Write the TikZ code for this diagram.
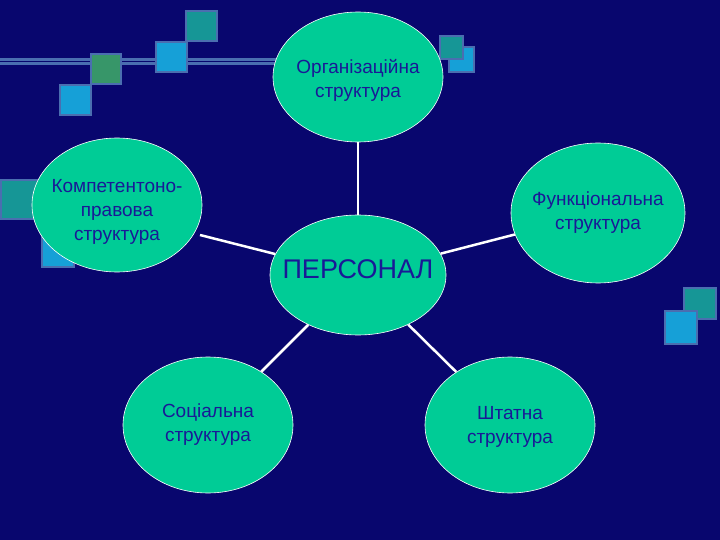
\documentclass[tikz,border=0pt]{standalone}
\usepackage{fontspec}
\setmainfont{Liberation Sans}
\usetikzlibrary{shapes.geometric}
\definecolor{bg}{RGB}{8,6,110}
\definecolor{frame}{RGB}{74,110,176}
\definecolor{teal}{RGB}{22,150,150}
\definecolor{sky}{RGB}{22,160,215}
\definecolor{grn}{RGB}{55,150,105}
\definecolor{ell}{RGB}{0,204,150}
\definecolor{txt}{RGB}{25,25,150}
\tikzset{
  sq/.style={draw=frame,line width=2.5pt},
  bub/.style={ellipse,fill=ell,draw=white,line width=0.6pt,inner sep=0pt},
  lbl/.style={text=txt,align=center,inner sep=0pt,font=\fontsize{19}{24}\selectfont},
  link/.style={draw=white,line width=2.5pt}
}
\begin{document}
\begin{tikzpicture}[x=1pt,y=-1pt]
\fill[bg] (0,0) rectangle (720,540);
\useasboundingbox (0,0) rectangle (720,540);
% decorative line and squares
\draw[frame,line width=7pt] (0,62) -- (285,62);
\draw[bg,line width=1pt] (0,62) -- (285,62);
\filldraw[sq,fill=teal] (186,11) rectangle (217,41);
\filldraw[sq,fill=sky] (156,42) rectangle (187,72);
\filldraw[sq,fill=grn] (91,54) rectangle (121,84);
\filldraw[sq,fill=sky] (60,85) rectangle (91,115);
\filldraw[sq,fill=sky] (449,47) rectangle (474,72);
\filldraw[sq,fill=teal] (440,36) rectangle (463,59);
\filldraw[sq,fill=teal] (1,180) rectangle (38,219);
\filldraw[sq,fill=sky] (42,236) rectangle (74,267);
\filldraw[sq,fill=teal] (684,288) rectangle (716,319);
\filldraw[sq,fill=sky] (665,311) rectangle (697,344);
% nodes
\node[bub,minimum width=170,minimum height=130] (org) at (358,77) {};
\node[lbl] (orgt) at (358,80) {Організаційна\\структура};
\node[bub,minimum width=170,minimum height=134] (komp) at (117,205) {};
\node[lbl] (kompt) at (117,212) {Компетентоно-\\правова\\структура};
\node[bub,minimum width=174,minimum height=140] (func) at (598,213) {};
\node[lbl] (funct) at (598,213) {Функціональна\\структура};
\node[bub,minimum width=176,minimum height=120] (pers) at (358,275) {};
\node[text=txt,inner sep=0pt,font=\fontsize{27}{30}\selectfont] (perst) at (358,269) {ПЕРСОНАЛ};
\node[bub,minimum width=170,minimum height=136] (soc) at (208,425) {};
\node[lbl] (soct) at (208,425) {Соціальна\\структура};
\node[bub,minimum width=170,minimum height=136] (sht) at (510,425) {};
\node[lbl] (shtt) at (510,427) {Штатна\\структура};
% links
\coordinate (k1) at (200,235);
\draw[link] (k1) -- (pers);
\draw[link] (org) -- (pers);
\draw[link] (func) -- (pers);
\draw[link] (soc) -- (pers);
\draw[link] (sht) -- (pers);
\end{tikzpicture}
\end{document}
